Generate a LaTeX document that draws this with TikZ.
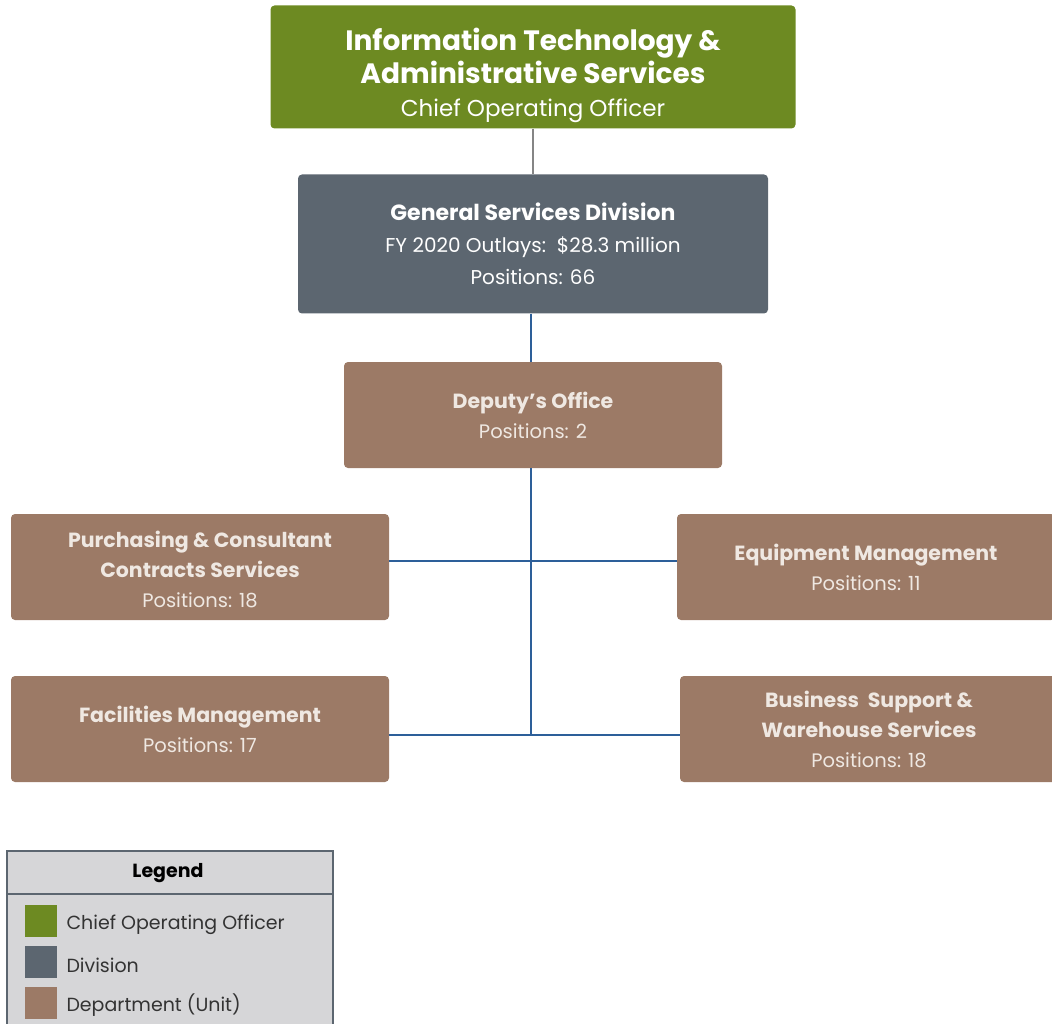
\documentclass[tikz,border=0pt]{standalone}
\usepackage{fontspec}
\setmainfont{Poppins}
\usepackage{tikz}
\usetikzlibrary{positioning}

\definecolor{cooGreen}{HTML}{6D8A22}
\definecolor{divGray}{HTML}{5C6670}
\definecolor{deptBrown}{HTML}{9C7A66}
\definecolor{lineBlue}{HTML}{2D5F99}
\definecolor{lineGray}{HTML}{858585}
\definecolor{legendFill}{HTML}{D6D6D8}
\definecolor{deptText}{HTML}{EFE8E2}

\newcommand{\fsz}[2]{\fontsize{#1}{#2}\selectfont}
\newcommand{\lite}[1]{\mdseries\fontsize{#1}{32}\selectfont}

\begin{document}
\begin{tikzpicture}[x=1pt,y=1pt,on grid,
    orgbox/.style={rectangle,rounded corners=4pt,inner sep=0pt,align=center},
    coobox/.style={orgbox,fill=cooGreen,text=white,minimum width=525pt,minimum height=123pt,font=\bfseries\fsz{28}{33}},
    divbox/.style={orgbox,fill=divGray,text=white,minimum width=470pt,minimum height=139pt,font=\bfseries\fsz{22}{32}},
    deptbox/.style={orgbox,fill=deptBrown,text=deptText,minimum width=378pt,minimum height=106pt,font=\bfseries\fsz{20.5}{30}},
    link/.style={lineBlue,line width=2pt},
    swatch/.style={rectangle,inner sep=0pt,minimum size=32pt},
    legtext/.style={anchor=west,text=black!80,font=\fsz{19}{22}}]
  \useasboundingbox (0,0) rectangle (1052,-1024);

  % top of the chart
  \node[coobox] (coo) at (533,-67) {\rule{0pt}{39pt}Information Technology \&\\Administrative Services\\\lite{23}Chief Operating Officer};
  \node[divbox] (gsd) [below=177pt of coo] {General Services Division\\\lite{20}FY 2020 Outlays:\ \ \$28.3 million\\\lite{20}Positions: 66};
  \node[deptbox] (dep) [below=171pt of gsd] {Deputy’s Office\\\lite{19.5}Positions: 2};

  % units
  \node[deptbox] (pur) at (200,-567) {\rule{0pt}{21pt}Purchasing \& Consultant\\Contracts Services\\\lite{19.5}Positions: 18};
  \node[deptbox] (equ) [right=666pt of pur] {Equipment Management\\\lite{19.5}Positions: 11};
  \node[deptbox] (fac) [below=162pt of pur] {Facilities Management\\\lite{19.5}Positions: 17};
  \node[deptbox] (bus) [right=669pt of fac] {Business\ \ Support \&\\Warehouse Services\\\lite{19.5}Positions: 18};

  \coordinate (j1) at (531,-561);
  \coordinate (j2) at (531,-735);

  \draw[lineGray,line width=2pt] (coo.south) -- (gsd.north);
  \draw[link] (gsd.south -| j1) -- (dep.north -| j1);
  \draw[link] (dep.south -| j1) -- (j2);
  \draw[link] (pur.east |- j1) -- (equ.west |- j1);
  \draw[link] (fac.east |- j2) -- (bus.west |- j2);

  % legend
  \draw[divGray,line width=2pt,fill=legendFill] (7,-1030) rectangle (333,-851);
  \draw[divGray,line width=2pt] (7,-894) -- (333,-894);
  \node[font=\bfseries\fsz{19}{22}] (leg) at (168,-873) {Legend};
  \node[swatch,fill=cooGreen] (s1) at (41,-921) {};
  \node[swatch,fill=divGray] (s2) [below=41pt of s1] {};
  \node[swatch,fill=deptBrown] (s3) [below=41pt of s2] {};
  \node[legtext] (t1) at (63,-925) {Chief Operating Officer};
  \node[legtext] (t2) at (63,-965) {Division};
  \node[legtext] (t3) at (63,-1005) {Department (Unit)};
\end{tikzpicture}
\end{document}
